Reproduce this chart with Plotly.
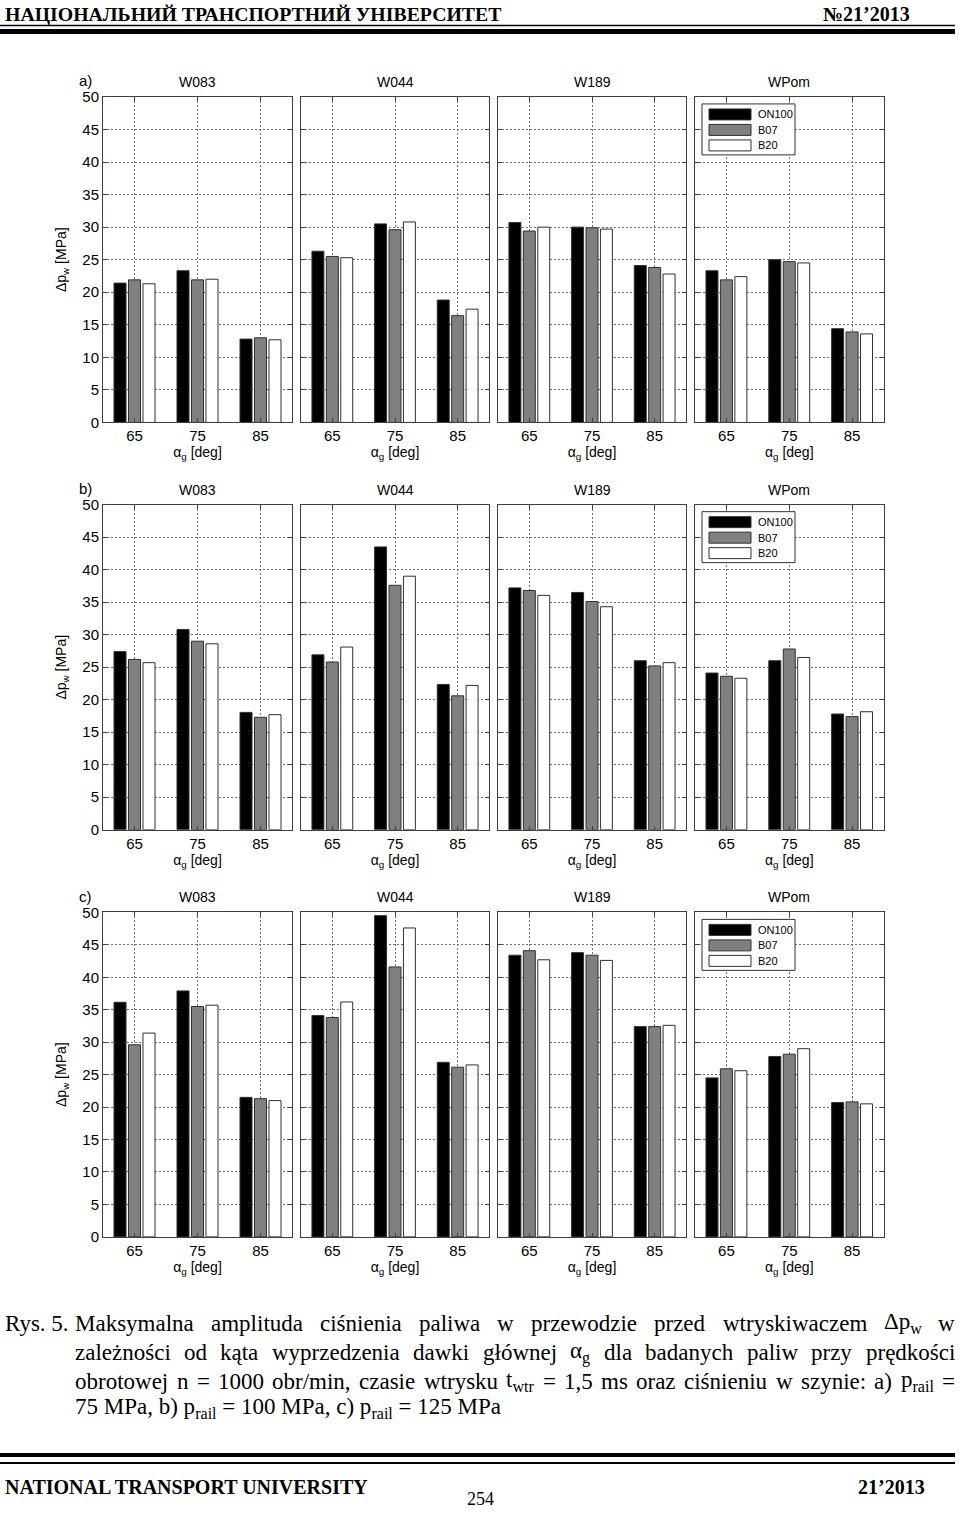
import plotly.graph_objects as go

W, H = 960, 1518

categories = ["65", "75", "85"]
fuels = ["ON100", "B07", "B20"]
fuel_colors = ["#000000", "#808080", "#ffffff"]
panels = ["W083", "W044", "W189", "WPom"]
row_labels = ["a)", "b)", "c)"]
y_tick_vals = [0, 5, 10, 15, 20, 25, 30, 35, 40, 45, 50]

# row a) p_rail = 75 MPa  (one list per engine panel: W083, W044, W189, WPom)
a_ON100 = [[21.4, 23.3, 12.8], [26.3, 30.5, 18.8], [30.7, 30.0, 24.1], [23.3, 25.0, 14.4]]
a_B07 = [[21.9, 21.9, 13.0], [25.5, 29.6, 16.4], [29.4, 29.9, 23.8], [21.9, 24.7, 13.9]]
a_B20 = [[21.3, 22.0, 12.7], [25.3, 30.8, 17.4], [30.0, 29.7, 22.8], [22.4, 24.5, 13.6]]

# row b) p_rail = 100 MPa
b_ON100 = [[27.4, 30.8, 18.05], [26.9, 43.5, 22.35], [37.2, 36.5, 26.0], [24.1, 26.0, 17.8]]
b_B07 = [[26.2, 29.0, 17.3], [25.8, 37.6, 20.6], [36.8, 35.1, 25.2], [23.6, 27.8, 17.4]]
b_B20 = [[25.7, 28.6, 17.7], [28.1, 39.0, 22.2], [36.05, 34.3, 25.7], [23.3, 26.5, 18.15]]

# row c) p_rail = 125 MPa
c_ON100 = [[36.15, 37.9, 21.5], [34.1, 49.5, 26.9], [43.4, 43.8, 32.4], [24.5, 27.8, 20.7]]
c_B07 = [[29.6, 35.5, 21.3], [33.8, 41.6, 26.15], [44.1, 43.4, 32.4], [25.9, 28.15, 20.8]]
c_B20 = [[31.4, 35.7, 21.0], [36.2, 47.6, 26.5], [42.7, 42.6, 32.6], [25.6, 29.0, 20.5]]

rows_data = [
    [a_ON100, a_B07, a_B20],
    [b_ON100, b_B07, b_B20],
    [c_ON100, c_B07, c_B20],
]

caption_label = "Rys. 5."
caption_lines = [
    "Maksymalna amplituda ciśnienia paliwa w przewodzie przed wtryskiwaczem Δp<sub>w</sub> w",
    "zależności od kąta wyprzedzenia dawki głównej α<sub>g</sub> dla badanych paliw przy prędkości",
    "obrotowej n = 1000 obr/min, czasie wtrysku t<sub>wtr</sub> = 1,5 ms oraz ciśnieniu w szynie: a) p<sub>rail</sub> =",
    "75 MPa, b) p<sub>rail</sub> = 100 MPa, c) p<sub>rail</sub> = 125 MPa",
]
caption_justified = [True, True, True, False]

# ---------------- layout geometry (target pixels) ----------------
col_px = [(103, 292), (301, 489), (498, 686), (695, 883.5)]
row_px = [(96, 421.7), (504, 829.3), (912, 1236.7)]

# vertical calibration of the capture (measured: 8 px offset, 1502 px usable height)
Y_OFF, Y_SPAN = 8, 1502


def px_x(x):
    return x / W


def px_y(y):
    return 1 - (y - Y_OFF) / Y_SPAN


SANS = "Liberation Sans, Arial, sans-serif"
SERIF = "Liberation Serif, Times New Roman, serif"
AX_COL = "#404040"
GRID_COL = "#6e6e6e"

fig = go.Figure()
layout = dict(
    width=W, height=H,
    margin=dict(l=0, r=0, t=0, b=0),
    paper_bgcolor="white", plot_bgcolor="white",
    barmode="group", bargap=0.31, bargroupgap=0.17,
    showlegend=False,
    font=dict(family=SANS, size=14, color="black"),
)

annotations = []
shapes = []

n = 0
for r in range(3):
    for c in range(4):
        n += 1
        xa = "x" if n == 1 else f"x{n}"
        ya = "y" if n == 1 else f"y{n}"
        for f in range(3):
            fig.add_trace(go.Bar(
                x=categories, y=rows_data[r][f][c], name=fuels[f],
                xaxis=xa, yaxis=ya,
                marker=dict(color=fuel_colors[f], line=dict(color="#303030", width=1)),
                showlegend=False,
            ))
        x0, x1 = col_px[c]
        y0, y1 = row_px[r]
        xkey = "xaxis" if n == 1 else f"xaxis{n}"
        ykey = "yaxis" if n == 1 else f"yaxis{n}"
        layout[xkey] = dict(
            domain=[px_x(x0), px_x(x1)], anchor=ya, type="category",
            range=[-0.5, 2.5], showgrid=True, gridcolor=GRID_COL, griddash="2px,2px",
            gridwidth=1, showline=True, linecolor=AX_COL, linewidth=1, mirror="ticks",
            ticks="inside", ticklen=4, tickcolor=AX_COL,
            tickfont=dict(family=SANS, size=15, color="black"),
            title=dict(text="α<sub>g</sub> [deg]", font=dict(family=SANS, size=14), standoff=2),
            fixedrange=True,
        )
        layout[ykey] = dict(
            domain=[px_y(y1), px_y(y0)], anchor=xa, range=[0, 50],
            tickmode="array", tickvals=y_tick_vals,
            showgrid=True, gridcolor=GRID_COL, griddash="2px,2px", gridwidth=1,
            zeroline=False, showline=True, linecolor=AX_COL, linewidth=1, mirror="ticks",
            ticks="inside", ticklen=4, tickcolor=AX_COL,
            showticklabels=(c == 0),
            tickfont=dict(family=SANS, size=15, color="black"),
            fixedrange=True,
        )
        if c == 0:
            layout[ykey]["title"] = dict(text="Δp<sub>w</sub> [MPa]", font=dict(family=SANS, size=14), standoff=12)
        annotations.append(dict(
            x=px_x((x0 + x1) / 2), y=px_y(y0 - 15), xref="paper", yref="paper",
            text=panels[c], showarrow=False, font=dict(family=SANS, size=14),
            xanchor="center", yanchor="middle"))
    annotations.append(dict(
        x=px_x(85), y=px_y(row_px[r][0] - 16), xref="paper", yref="paper",
        text=row_labels[r], showarrow=False, font=dict(family=SANS, size=15),
        xanchor="center", yanchor="middle"))
    # legend box drawn in the WPom panel
    dy = row_px[r][0] - 96
    shapes.append(dict(type="rect", xref="paper", yref="paper",
                       x0=px_x(702), x1=px_x(795), y0=px_y(103 + dy), y1=px_y(154 + dy),
                       line=dict(color="#303030", width=1), fillcolor="white", layer="above"))
    for f in range(3):
        sy = 108 + dy + f * 15.5
        shapes.append(dict(type="rect", xref="paper", yref="paper",
                           x0=px_x(709), x1=px_x(751), y0=px_y(sy), y1=px_y(sy + 11),
                           line=dict(color="#303030", width=1), fillcolor=fuel_colors[f], layer="above"))
        annotations.append(dict(
            x=px_x(756), y=px_y(sy + 5.5), xref="paper", yref="paper", text=fuels[f],
            showarrow=False, font=dict(family=SANS, size=11), xanchor="left", yanchor="middle"))

# ---------------- page header ----------------
annotations.append(dict(x=px_x(3), y=px_y(13.5), xref="paper", yref="paper",
                        text="<b>НАЦІОНАЛЬНИЙ ТРАНСПОРТНИЙ УНІВЕРСИТЕТ</b>", showarrow=False,
                        font=dict(family=SERIF, size=19.8), xanchor="left", yanchor="middle"))
annotations.append(dict(x=px_x(912), y=px_y(13.5), xref="paper", yref="paper",
                        text="<b>№21’2013</b>", showarrow=False,
                        font=dict(family=SERIF, size=20), xanchor="right", yanchor="middle"))
shapes.append(dict(type="line", xref="paper", yref="paper", x0=0, x1=px_x(955),
                   y0=px_y(24.5), y1=px_y(24.5), line=dict(color="black", width=1.5)))
shapes.append(dict(type="rect", xref="paper", yref="paper", x0=0, x1=px_x(955),
                   y0=px_y(28), y1=px_y(33), line=dict(width=0), fillcolor="black"))

# ---------------- caption (justified word by word, Times metrics) ----------------
TNR = {' ': 250, 'a': 444, 'b': 500, 'c': 444, 'd': 500, 'e': 444, 'f': 333, 'g': 500, 'h': 500,
       'i': 278, 'j': 278, 'k': 500, 'l': 278, 'm': 778, 'n': 500, 'o': 500, 'p': 500, 'q': 500,
       'r': 333, 's': 389, 't': 278, 'u': 500, 'v': 500, 'w': 722, 'x': 500, 'y': 500, 'z': 444,
       'ś': 389, 'ą': 444, 'ę': 444, 'ż': 444, 'ł': 278, 'ó': 500, 'ć': 444, 'ń': 500,
       'M': 889, 'P': 556, 'R': 667, 'Δ': 612, 'α': 540, ',': 250, '.': 250, '=': 564,
       '/': 278, ':': 278, ')': 333, '(': 333}
for d in "0123456789":
    TNR[d] = 500


def text_width(word, size):
    total = 0.0
    scale = 1.0
    i = 0
    while i < len(word):
        if word.startswith("<sub>", i):
            scale = 0.7
            i += 5
            continue
        if word.startswith("</sub>", i):
            scale = 1.0
            i += 6
            continue
        total += TNR.get(word[i], 500) * scale
        i += 1
    return total * size / 1000.0


CAP_SIZE = 23
cap_left, cap_right = 75, 955
caption_y = [1323, 1352, 1381, 1408]
annotations.append(dict(x=px_x(3), y=px_y(caption_y[0]), xref="paper", yref="paper",
                        text=caption_label, showarrow=False, font=dict(family=SERIF, size=CAP_SIZE),
                        xanchor="left", yanchor="middle"))
for line, yy, just in zip(caption_lines, caption_y, caption_justified):
    if not just:
        annotations.append(dict(x=px_x(cap_left - 2), y=px_y(yy), xref="paper", yref="paper",
                                text=line, showarrow=False, font=dict(family=SERIF, size=CAP_SIZE),
                                xanchor="left", yanchor="middle"))
        continue
    words = line.split(" ")
    widths = [text_width(w_, CAP_SIZE) for w_ in words]
    gap = (cap_right - cap_left - sum(widths)) / (len(words) - 1)
    xpos = cap_left
    for w_, wd in zip(words, widths):
        annotations.append(dict(x=px_x(xpos - 2), y=px_y(yy), xref="paper", yref="paper",
                                text=w_, showarrow=False, font=dict(family=SERIF, size=CAP_SIZE),
                                xanchor="left", yanchor="middle"))
        xpos += wd + gap

# ---------------- footer ----------------
shapes.append(dict(type="rect", xref="paper", yref="paper", x0=0, x1=px_x(955),
                   y0=px_y(1453), y1=px_y(1457), line=dict(width=0), fillcolor="black"))
shapes.append(dict(type="line", xref="paper", yref="paper", x0=0, x1=px_x(955),
                   y0=px_y(1463), y1=px_y(1463), line=dict(color="black", width=2)))
annotations.append(dict(x=px_x(3), y=px_y(1487), xref="paper", yref="paper",
                        text="<b>NATIONAL TRANSPORT UNIVERSITY</b>", showarrow=False,
                        font=dict(family=SERIF, size=20), xanchor="left", yanchor="middle"))
annotations.append(dict(x=px_x(927), y=px_y(1487), xref="paper", yref="paper",
                        text="<b>21’2013</b>", showarrow=False,
                        font=dict(family=SERIF, size=20), xanchor="right", yanchor="middle"))
annotations.append(dict(x=px_x(480), y=px_y(1510.5), xref="paper", yref="paper",
                        text="254", showarrow=False,
                        font=dict(family=SERIF, size=18), xanchor="center", yanchor="bottom",
                        borderpad=0))

layout["annotations"] = annotations
layout["shapes"] = shapes
fig.update_layout(**layout)
fig.write_html("out.html")
